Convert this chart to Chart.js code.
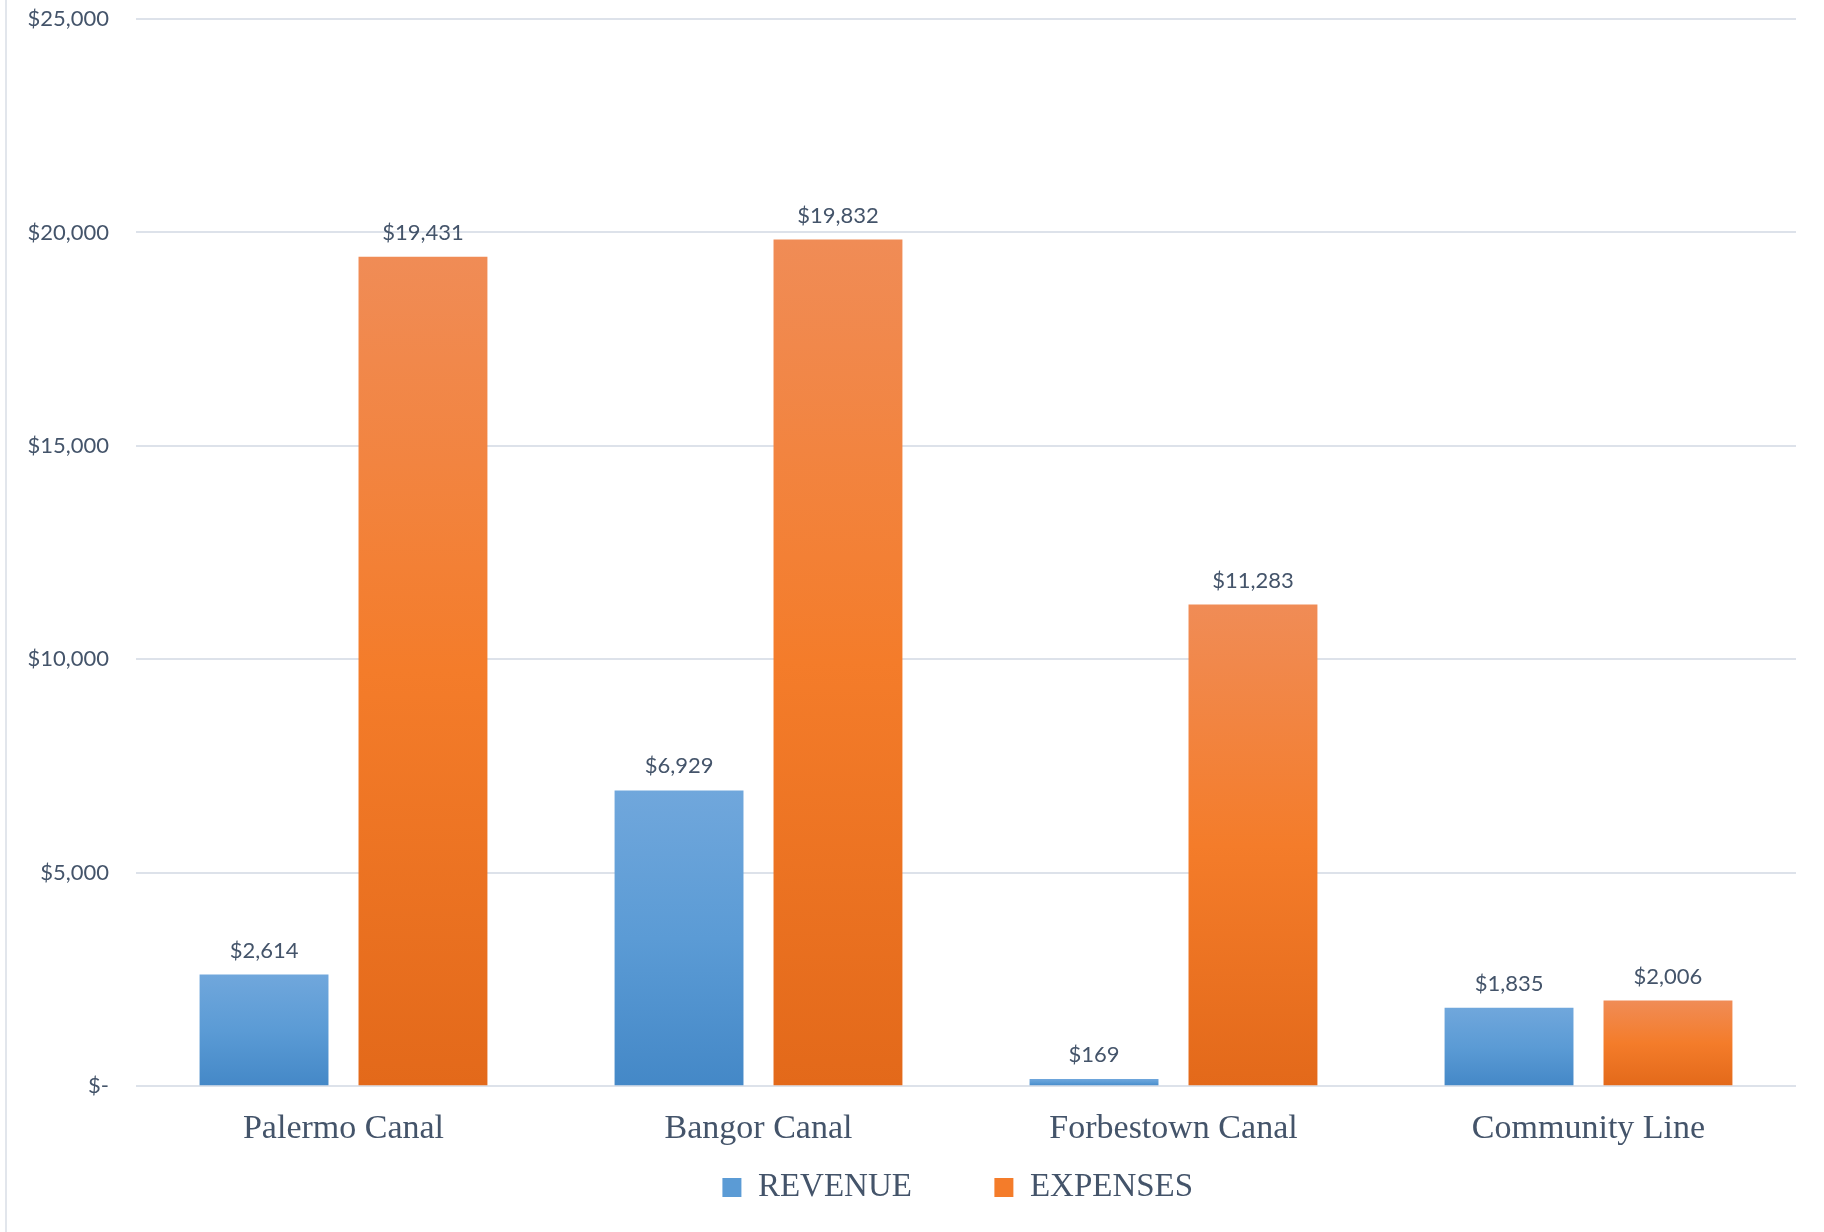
<html lang="en">

<head>
  <meta name="viewport" content="width=device-width, initial-scale=1.0" />
  <title>Revenue vs Expenses</title>
  <style>
    * {
      padding: 0;
      margin: 0;
      box-sizing: border-box;
    }

    body {
      width: 1824px;
      height: 1232px;
      background: #ffffff;
      overflow: hidden;
    }

    .wrapper {
      position: absolute;
      left: 0;
      top: 0;
      width: 1824px;
      height: 1232px;
    }

    .edge {
      position: absolute;
      left: 5px;
      top: 0;
      width: 2px;
      height: 1232px;
      background: #e2e6ec;
    }

    canvas {
      display: block;
    }
  </style>
</head>

<body>
  <div class="wrapper">
    <div class="edge"></div>
    <canvas id="chart" width="1824" height="1232"></canvas>
  </div>
  <script src="https://cdn.jsdelivr.net/npm/chart.js@4.4.1/dist/chart.umd.min.js"></script>
  <script>
    const categories = ["Palermo Canal", "Bangor Canal", "Forbestown Canal", "Community Line"];
    const revenue = [2614, 6929, 169, 1835];
    const expenses = [19431, 19832, 11283, 2006];
    const seriesNames = ["REVENUE", "EXPENSES"];

    const textColor = "#44546a";
    const gridColor = "#dde2ea";

    // light / base / dark stops, like the Excel gradient fill
    const blueStops = ["#70a7dc", "#5b9bd5", "#4488c7"];
    const orangeStops = ["#f08c56", "#f47c2a", "#e3691a"];

    const money = (v) => v === 0 ? "$-" : "$" + v.toLocaleString("en-US");

    function barGradient(stops) {
      return (context) => {
        const chart = context.chart;
        if (!chart.chartArea || context.type !== "data") return stops[1];
        const y = chart.scales.y;
        const top = y.getPixelForValue(context.raw);
        const base = y.getPixelForValue(0);
        const g = chart.ctx.createLinearGradient(0, top, 0, base);
        g.addColorStop(0, stops[0]);
        g.addColorStop(0.5, stops[1]);
        g.addColorStop(1, stops[2]);
        return g;
      };
    }

    // value labels above each bar
    const valueLabels = {
      id: "valueLabels",
      afterDatasetsDraw(chart) {
        const ctx = chart.ctx;
        ctx.save();
        ctx.font = "22px Lato";
        ctx.fillStyle = textColor;
        ctx.textAlign = "center";
        ctx.textBaseline = "alphabetic";
        chart.data.datasets.forEach((ds, i) => {
          chart.getDatasetMeta(i).data.forEach((bar, j) => {
            ctx.fillText(money(ds.data[j]), bar.x, bar.y - 17);
          });
        });
        ctx.restore();
      },
    };

    new Chart(document.getElementById("chart"), {
      type: "bar",
      plugins: [valueLabels],
      data: {
        labels: categories,
        datasets: [
          {
            label: seriesNames[0],
            data: revenue,
            backgroundColor: barGradient(blueStops),
          },
          {
            label: seriesNames[1],
            data: expenses,
            backgroundColor: barGradient(orangeStops),
          },
        ],
      },
      options: {
        responsive: false,
        animation: false,
        devicePixelRatio: 1,
        datasets: {
          bar: {
            categoryPercentage: 0.766,
            barPercentage: 0.811,
          },
        },
        layout: {
          padding: { left: 0, right: 28, top: 19, bottom: 18 },
        },
        plugins: {
          tooltip: { enabled: false },
          legend: {
            position: "bottom",
            fullSize: false,
            labels: {
              color: textColor,
              font: { family: "Liberation Serif", size: 33 },
              boxWidth: 19,
              boxHeight: 19,
              padding: 0,
              // trailing spaces widen the gap between the two entries
              generateLabels: (chart) => chart.data.datasets.map((ds, i) => ({
                text: ds.label + (i === 0 ? "          " : "  "),
                fillStyle: (i === 0 ? blueStops : orangeStops)[1],
                fontColor: textColor,
                strokeStyle: "rgba(0,0,0,0)",
                lineWidth: 0,
                datasetIndex: i,
              })),
            },
          },
        },
        scales: {
          x: {
            grid: { display: false, drawTicks: false },
            border: { display: false },
            ticks: {
              color: textColor,
              font: { family: "Liberation Serif", size: 34 },
              padding: 22,
            },
          },
          y: {
            min: 0,
            max: 25000,
            grid: { color: gridColor, lineWidth: 2, drawTicks: false },
            border: { display: false },
            afterFit: (scale) => {
              scale.width = 136;
              // tick padding is only meant to push labels left, not down
              scale.paddingTop = 0;
              scale.paddingBottom = 0;
            },
            ticks: {
              stepSize: 5000,
              color: textColor,
              font: { family: "Lato", size: 22 },
              padding: 27,
              callback: (v) => money(v),
            },
          },
        },
      },
    });
  </script>
</body>

</html>
